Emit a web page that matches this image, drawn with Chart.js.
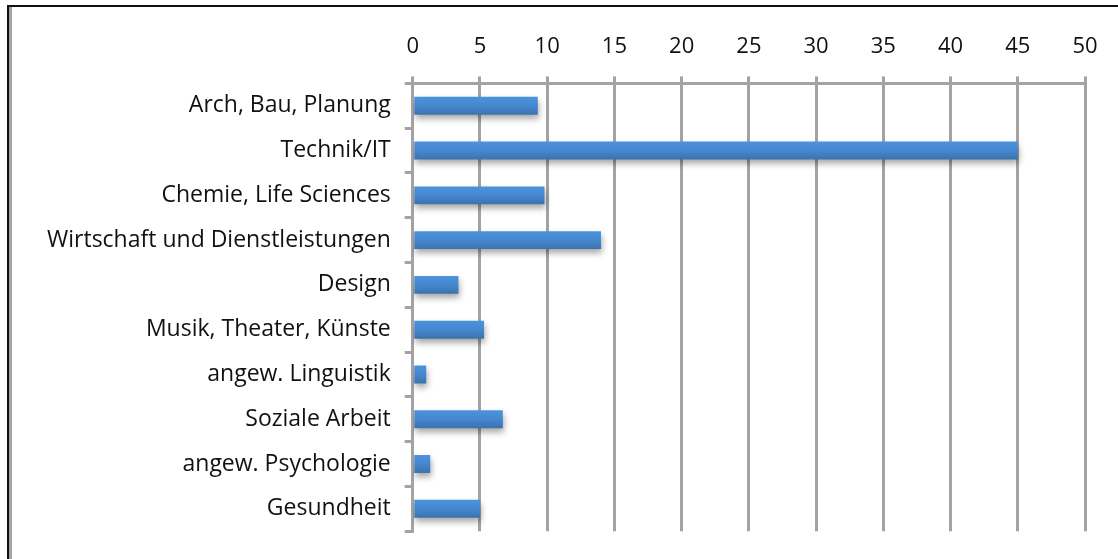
<!DOCTYPE html>
<html>
<head>
<meta charset="utf-8">
<script src="https://cdn.jsdelivr.net/npm/chart.js@4"></script>
<style>
  body { margin: 0; background: #fff; }
  #wrap { position: relative; width: 1118px; height: 559px; }
  #frame { position: absolute; left: 7px; top: 5px; right: 0; bottom: 0;
           border-top: 2px solid #111; border-left: 2px solid #111; }
  #frame-inner { position: absolute; left: 0; top: 0; bottom: 0; width: 3px; background: #a3a3a3; }
  canvas { position: absolute; left: 0; top: 0; }
</style>
</head>
<body>
<div id="wrap">
  <canvas id="myChart" width="1118" height="559"></canvas>
  <div id="frame"><div id="frame-inner"></div></div>
</div>
<script>
const categories = ['Arch, Bau, Planung', 'Technik/IT', 'Chemie, Life Sciences', 'Wirtschaft und Dienstleistungen',
    'Design', 'Musik, Theater, Künste', 'angew. Linguistik', 'Soziale Arbeit', 'angew. Psychologie', 'Gesundheit'];
const values = [9.3, 45, 9.8, 14, 3.4, 5.3, 1, 6.7, 1.3, 5];
const xTicks = [0, 5, 10, 15, 20, 25, 30, 35, 40, 45, 50];

const fontFamily = "'Open Sans', Lato, sans-serif";

function barGradient(c) {
    const el = c.element;
    if (!el || !el.height) return '#4385cc';
    const g = c.chart.ctx.createLinearGradient(0, el.y - el.height / 2, 0, el.y + el.height / 2);
    g.addColorStop(0, '#4b93db');
    g.addColorStop(0.5, '#4587cf');
    g.addColorStop(1, '#3b72af');
    return g;
}

const shadowPlugin = {
    id: 'shadow',
    beforeDatasetsDraw(chart) {
        const ctx = chart.ctx;
        ctx.save();
        ctx.shadowColor = 'rgba(0,0,0,0.35)';
        ctx.shadowBlur = 6;
        ctx.shadowOffsetX = 1;
        ctx.shadowOffsetY = 4;
    },
    afterDatasetsDraw(chart) {
        chart.ctx.restore();
    }
};

const ctx = document.getElementById('myChart').getContext('2d');
const myChart = new Chart(ctx, {
    type: 'bar',
    data: {
        labels: categories,
        datasets: [{
            data: values,
            backgroundColor: barGradient,
            borderWidth: 0,
            barPercentage: 0.4,
            categoryPercentage: 1
        }]
    },
    options: {
        indexAxis: 'y',
        responsive: false,
        animation: false,
        layout: { padding: { left: 33, right: 33, top: 18, bottom: 25 } },
        plugins: {
            legend: { display: false },
            tooltip: { enabled: false }
        },
        scales: {
            x: {
                position: 'top',
                min: 0,
                max: 50,
                afterBuildTicks: (axis) => { axis.ticks = xTicks.map(v => ({ value: v })); },
                grid: { color: '#a3a3a3', lineWidth: 3, tickLength: 7, drawTicks: true },
                border: { color: '#a3a3a3', width: 3 },
                ticks: {
                    color: '#111',
                    padding: 16,
                    font: { family: fontFamily, size: 22 }
                }
            },
            y: {
                grid: { drawOnChartArea: false, offset: true, color: '#a3a3a3', lineWidth: 3, tickLength: 8 },
                border: { color: '#a3a3a3', width: 3 },
                ticks: {
                    color: '#111',
                    padding: 14,
                    font: { family: fontFamily, size: 23 }
                }
            }
        }
    },
    plugins: [shadowPlugin]
});
myChart.update();
</script>
</body>
</html>
